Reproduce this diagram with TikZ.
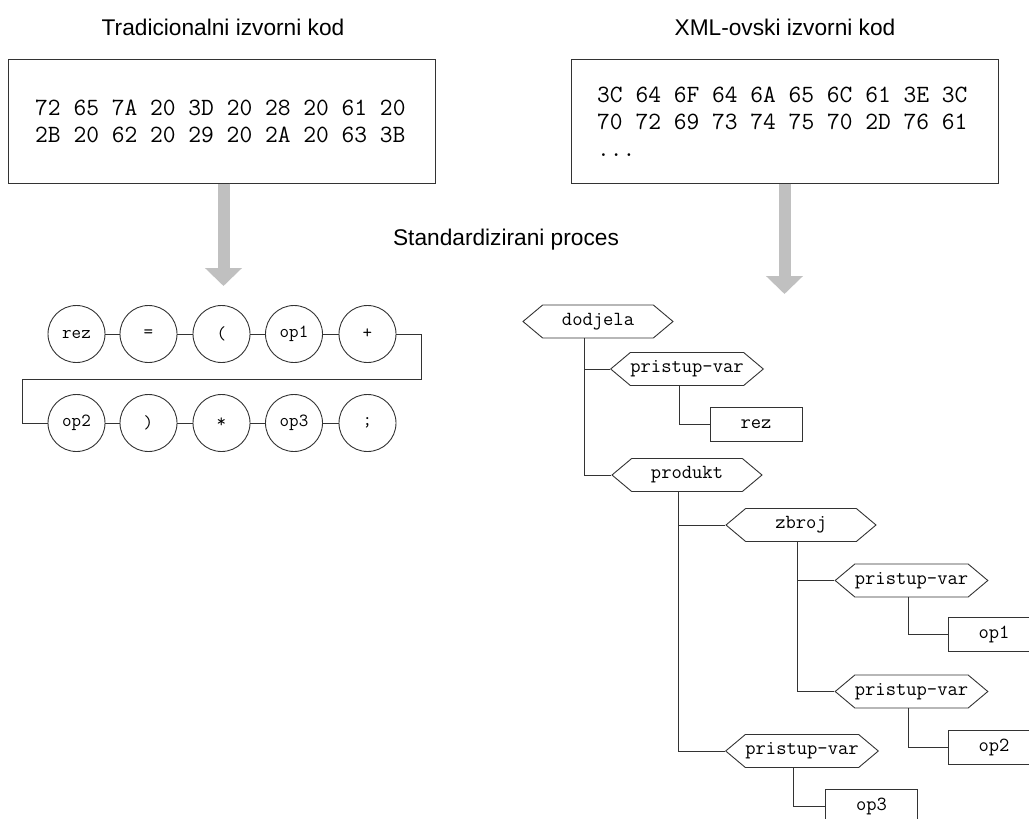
\documentclass[tikz,border=0pt]{standalone}
\usepackage{fontspec}
\setmainfont{Liberation Sans}
\usetikzlibrary{shapes.symbols,arrows.meta}

\definecolor{linegray}{HTML}{333333}
\definecolor{arrowgray}{HTML}{C0C0C0}

\tikzset{
  title/.style={font=\fontsize{22.7}{26}\selectfont, inner sep=0pt},
  codebox/.style={draw=linegray, line width=1pt, minimum width=427, minimum height=124, inner sep=0pt},
  hexcode/.style={font=\ttfamily\fontsize{24.8}{27}\selectfont, align=left, inner sep=0pt, anchor=west},
  token/.style={circle, draw=linegray, line width=0.9pt, minimum size=57, inner sep=0pt,
                font=\ttfamily\fontsize{18.5}{20}\selectfont},
  tagbox/.style={signal, signal to=west and east, signal pointer angle=80,
                 draw=linegray, line width=0.9pt, minimum width=150, minimum height=33,
                 inner sep=0pt, font=\ttfamily\fontsize{20}{22}\selectfont},
  leafbox/.style={rectangle, draw=linegray, line width=0.9pt, minimum width=92, minimum height=34,
                  inner sep=0pt, font=\ttfamily\fontsize{20}{22}\selectfont},
  link/.style={draw=linegray, line width=0.9pt},
  flow/.style={draw=arrowgray, line width=12pt,
               -{Triangle[width=36pt, length=18pt]}, arrowgray},
}

\begin{document}
\begin{tikzpicture}[x=1pt, y=-1pt]
  \useasboundingbox (0,0) rectangle (1029,819);
  \clip (0,0) rectangle (1029,819);

  % headings
  \node[title] (t1) at (223,27) {Tradicionalni izvorni kod};
  \node[title] (t2) at (785,27) {XML-ovski izvorni kod};
  \node[title] (t3) at (506,240) {Standardizirani proces};

  % source boxes with their byte dumps
  \node[codebox] (src) at (221.5,121) {};
  \node[hexcode] (srctxt) at (35,121) {72 65 7A 20 3D 20 28 20 61 20\\2B 20 62 20 29 20 2A 20 63 3B};

  \node[codebox] (xml) at (784.5,121) {};
  \node[hexcode] (xmltxt) at (597,122) {3C 64 6F 64 6A 65 6C 61 3E 3C\\70 72 69 73 74 75 70 2D 76 61\\...};

  % processing arrows
  \coordinate (a1) at (223.5,286);
  \coordinate (a2) at (784.5,294);
  \draw[flow] (src.south -| a1) -- (a1);
  \draw[flow] (xml.south -| a2) -- (a2);

  % token stream
  \node[token] (c1) at (76.5,334) {rez};
  \node[token] (c2) at (148.5,334) {=};
  \node[token] (c3) at (221.5,334) {(};
  \node[token] (c4) at (294,334) {op1};
  \node[token] (c5) at (367.5,334) {+};
  \node[token] (c6) at (76.5,423) {op2};
  \node[token] (c7) at (148.5,423) {)};
  \node[token] (c8) at (221.5,423) {*};
  \node[token] (c9) at (294,423) {op3};
  \node[token] (c10) at (367.5,423) {;};
  \coordinate (wrapR) at (421,379);
  \coordinate (wrapL) at (22,379);

  \draw[link] (c1) -- (c2) (c2) -- (c3) (c3) -- (c4) (c4) -- (c5);
  \draw[link] (c6) -- (c7) (c7) -- (c8) (c8) -- (c9) (c9) -- (c10);
  \draw[link] (c5.east) -| (wrapR) -- (wrapL) |- (c6.west);

  % syntax tree
  \node[tagbox] (dodjela) at (598,321.5) {dodjela};
  \node[tagbox] (pv1) at (687,369) {pristup-var};
  \node[leafbox] (rez) at (756,424.5) {rez};
  \node[tagbox] (produkt) at (687,475) {produkt};
  \node[tagbox] (zbroj) at (801,525) {zbroj};
  \node[tagbox] (pv2) at (911.5,580.5) {pristup-var};
  \node[leafbox] (op1) at (994,634) {op1};
  \node[tagbox] (pv4) at (911.5,691.5) {pristup-var};
  \node[leafbox] (op2) at (994,747.5) {op2};
  \node[tagbox] (pv3) at (802,751) {pristup-var};
  \node[leafbox] (op3) at (871.5,806) {op3};

  \draw[link] ([xshift=-14pt]dodjela.south) |- (pv1.west);
  \draw[link] ([xshift=-14pt]dodjela.south) |- (produkt.west);
  \draw[link] ([xshift=-8pt]pv1.south) |- (rez.west);
  \draw[link] ([xshift=-9pt]produkt.south) |- (zbroj.west);
  \draw[link] ([xshift=-9pt]produkt.south) |- (pv3.west);
  \draw[link] ([xshift=-4pt]zbroj.south) |- (pv2.west);
  \draw[link] ([xshift=-4pt]zbroj.south) |- (pv4.west);
  \draw[link] ([xshift=-3.5pt]pv2.south) |- (op1.west);
  \draw[link] ([xshift=-3.5pt]pv4.south) |- (op2.west);
  \draw[link] ([xshift=-9pt]pv3.south) |- (op3.west);
\end{tikzpicture}
\end{document}
